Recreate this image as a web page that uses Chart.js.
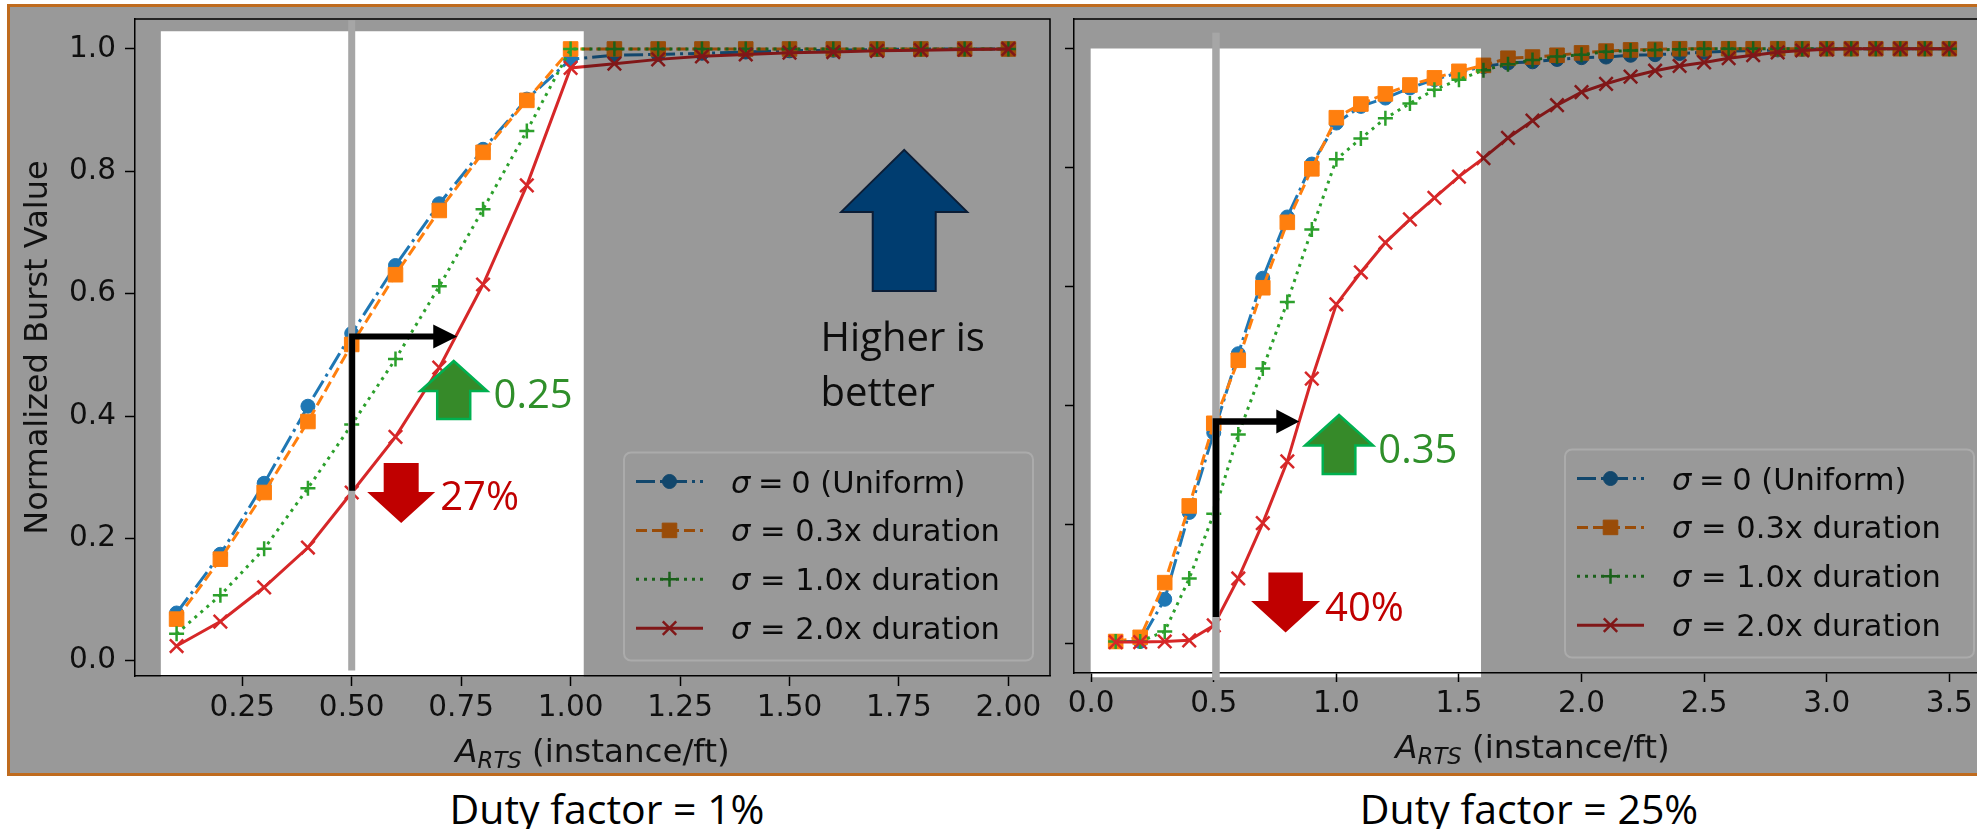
<!DOCTYPE html>
<html lang="en">
<head>
<meta charset="utf-8">
<title>Normalized Burst Value vs A_RTS</title>
<script src="https://cdn.jsdelivr.net/npm/chart.js@4.4.1/dist/chart.umd.min.js"></script>
<style>
  html, body { margin: 0; padding: 0; background: #fff; }
  body { position: relative; width: 1977px; height: 829px; overflow: hidden; }
  #frame { position: absolute; left: 7px; top: 4px; width: 2100px; height: 766px;
           border: 3px solid #bf6b1e; border-right: none; }
  canvas { position: absolute; top: 7px; }
  #leftChart { left: 10px; }
  #rightChart { left: 1062px; }
  .caption { position: absolute; top: 788px; font-family: "Open Sans"; font-size: 41px;
             line-height: 41px; color: #000; white-space: nowrap; transform: translateX(-50%); }
</style>
</head>
<body>
<canvas id="leftChart" width="1052" height="766"></canvas>
<canvas id="rightChart" width="1000" height="766"></canvas>
<div id="frame"></div>
<div class="caption" style="left:607px">Duty factor = 1%</div>
<div class="caption" style="left:1529px">Duty factor = 25%</div>

<script>
// =========================
// DATA
// =========================

const seriesNames = ["σ = 0 (Uniform)", "σ = 0.3x duration", "σ = 1.0x duration", "σ = 2.0x duration"];

// duty factor = 1%
const xLeft = [0.1, 0.2, 0.3, 0.4, 0.5, 0.6, 0.7, 0.8, 0.9, 1.0,
               1.1, 1.2, 1.3, 1.4, 1.5, 1.6, 1.7, 1.8, 1.9, 2.0];
const uniformLeft = [0.078, 0.174, 0.290, 0.416, 0.535, 0.646, 0.747, 0.836, 0.918, 0.983,
                     0.990, 0.991, 0.993, 0.995, 0.997, 0.998, 0.999, 1.0, 1.0, 1.0];
const sigma03Left = [0.068, 0.166, 0.275, 0.391, 0.517, 0.631, 0.736, 0.831, 0.916, 1.0,
                     1.0, 1.0, 1.0, 1.0, 1.0, 1.0, 1.0, 1.0, 1.0, 1.0];
const sigma10Left = [0.044, 0.107, 0.183, 0.282, 0.386, 0.493, 0.612, 0.738, 0.866, 1.0,
                     1.0, 1.0, 1.0, 1.0, 1.0, 1.0, 1.0, 1.0, 1.0, 1.0];
const sigma20Left = [0.024, 0.064, 0.120, 0.185, 0.275, 0.366, 0.479, 0.615, 0.777, 0.969,
                     0.976, 0.983, 0.988, 0.991, 0.994, 0.995, 0.997, 0.998, 0.999, 1.0];

// duty factor = 25%
const xRight = [0.1, 0.2, 0.3, 0.4, 0.5, 0.6, 0.7, 0.8, 0.9, 1.0,
                1.1, 1.2, 1.3, 1.4, 1.5, 1.6, 1.7, 1.8, 1.9, 2.0,
                2.1, 2.2, 2.3, 2.4, 2.5, 2.6, 2.7, 2.8, 2.9, 3.0,
                3.1, 3.2, 3.3, 3.4, 3.5];
const uniformRight = [0.003, 0.003, 0.074, 0.220, 0.354, 0.487, 0.614, 0.717, 0.806, 0.875,
                      0.903, 0.917, 0.934, 0.948, 0.960, 0.970, 0.976, 0.978, 0.982, 0.985,
                      0.986, 0.989, 0.990, 0.992, 0.994, 0.996, 0.997, 0.998, 0.999, 1.0,
                      1.0, 1.0, 1.0, 1.0, 1.0];
const sigma03Right = [0.003, 0.010, 0.102, 0.231, 0.370, 0.476, 0.598, 0.708, 0.798, 0.884,
                      0.907, 0.924, 0.939, 0.951, 0.962, 0.972, 0.984, 0.986, 0.989, 0.993,
                      0.996, 0.998, 0.999, 1.0, 1.0, 1.0, 1.0, 1.0, 1.0, 1.0,
                      1.0, 1.0, 1.0, 1.0, 1.0];
const sigma10Right = [0.003, 0.003, 0.020, 0.109, 0.218, 0.351, 0.462, 0.574, 0.696, 0.814,
                      0.849, 0.883, 0.908, 0.931, 0.948, 0.964, 0.974, 0.981, 0.987, 0.990,
                      0.995, 0.997, 0.998, 0.999, 1.0, 1.0, 1.0, 1.0, 1.0, 1.0,
                      1.0, 1.0, 1.0, 1.0, 1.0];
const sigma20Right = [0.002, 0.002, 0.003, 0.005, 0.030, 0.109, 0.202, 0.306, 0.445, 0.570,
                      0.624, 0.674, 0.713, 0.749, 0.785, 0.816, 0.850, 0.879, 0.905, 0.927,
                      0.941, 0.953, 0.963, 0.971, 0.977, 0.984, 0.989, 0.994, 0.997, 0.999,
                      1.0, 1.0, 1.0, 1.0, 1.0];

const yTicks = [0, 0.2, 0.4, 0.6, 0.8, 1.0];
const xTicksLeft = [0.25, 0.5, 0.75, 1.0, 1.25, 1.5, 1.75, 2.0];
const xTicksRight = [0, 0.5, 1.0, 1.5, 2.0, 2.5, 3.0, 3.5];


// =========================
// STYLES
// =========================

const seriesStyle = [
    { color: "#1f77b4", dash: [19, 5, 3, 5], point: "circle", radius: 7, pw: 1 },
    { color: "#ff7f0e", dash: [11, 5], point: "rect", radius: 10.3, pw: 1 },
    { color: "#2ca02c", dash: [3, 5], point: "cross", radius: 7.5, pw: 2.5 },
    { color: "#d62728", dash: [], point: "crossRot", radius: 9.5, pw: 2.5 }
];

const tickFont = { family: "DejaVu Sans", size: 29.5 };
const noteFont = '40px "Open Sans"';
const GREEN_FILL = "#368a29", GREEN_EDGE = "#00b050", GREEN_TEXT = "#2f8f2a";
const RED = "#c00000";

const panels = {
    left: {
        name: "left", xs: xLeft, series: [uniformLeft, sigma03Left, sigma10Left, sigma20Left],
        xMin: 0.005, xMax: 2.095, yMin: -0.025, yMax: 1.049,
        xTicks: xTicksLeft, xDigits: 2, yLabels: true, tickLen: 10,
        padding: { left: 0, top: 9, right: 10, bottom: 0 }, yAxisWidth: 125, xAxisHeight: 97,
        yTitle: true, xTitleBase: 754.7,
        highlight: { x0: 0.064, x1: 1.030, y0: -0.026, y1: 1.029 },
        vline: { x: 0.5, y0: -0.016, y1: 1.047, w: 7 },
        bracket: { x: 0.501, yTop: 0.530, yBottom: 0.278, xTip: 0.741, w: 6, headLen: 24, headHalf: 12 },
        arrows: [
            { x: 1.762, y: 0.835, up: true, hh: 63, hl: 62, sh: 31.5, len: 141, fill: "#003d70", edge: "#0b1d36", ew: 2 },
            { x: 0.733, y: 0.490, up: true, hh: 33.5, hl: 30, sh: 16.5, len: 58, fill: GREEN_FILL, edge: GREEN_EDGE, ew: 2.5 },
            { x: 0.613, y: 0.225, up: false, hh: 34, hl: 31, sh: 17.5, len: 60, fill: RED, edge: null, ew: 0 }
        ],
        notes: [
            { text: "0.25", x: 0.824, y: 0.413, color: GREEN_TEXT },
            { text: "27%", x: 0.702, y: 0.246, color: RED },
            { text: "Higher is", x: 1.571, y: 0.506, color: "#0d0d0d" },
            { text: "better", x: 1.571, y: 0.417, color: "#0d0d0d" }
        ]
    },
    right: {
        name: "right", xs: xRight, series: [uniformRight, sigma03Right, sigma10Right, sigma20Right],
        xMin: -0.07, xMax: 3.67, yMin: -0.05, yMax: 1.05,
        xTicks: xTicksRight, xDigits: 1, yLabels: false, tickLen: 9,
        padding: { left: 0, top: 6, right: 71, bottom: 0 }, yAxisWidth: 12, xAxisHeight: 100,
        yTitle: false, xTitleBase: 751,
        highlight: { x0: -0.002, x1: 1.590, y0: -0.057, y1: 1.0005 },
        vline: { x: 0.509, y0: -0.062, y1: 1.027, w: 7.5 },
        bracket: { x: 0.509, yTop: 0.373, yBottom: 0.044, xTip: 0.849, w: 6.5, headLen: 23, headHalf: 12 },
        arrows: [
            { x: 1.011, y: 0.384, up: true, hh: 34, hl: 30.5, sh: 16.3, len: 59, fill: GREEN_FILL, edge: GREEN_EDGE, ew: 2.5 },
            { x: 0.793, y: 0.018, up: false, hh: 34.5, hl: 31.5, sh: 17.2, len: 60, fill: RED, edge: null, ew: 0 }
        ],
        notes: [
            { text: "0.35", x: 1.171, y: 0.303, color: GREEN_TEXT },
            { text: "40%", x: 0.954, y: 0.037, color: RED }
        ]
    }
};


// =========================
// DRAW HELPERS
// =========================

function drawMarker(ctx, st, x, y) {
    const r = st.radius;
    ctx.fillStyle = st.color;
    ctx.strokeStyle = st.color;
    ctx.lineWidth = st.pw;
    ctx.beginPath();
    if (st.point === "circle") {
        ctx.arc(x, y, r, 0, Math.PI * 2);
        ctx.fill();
    } else if (st.point === "rect") {
        const s = Math.SQRT1_2 * r;
        ctx.rect(x - s, y - s, 2 * s, 2 * s);
        ctx.fill();
    } else if (st.point === "cross") {
        ctx.moveTo(x - r, y); ctx.lineTo(x + r, y);
        ctx.moveTo(x, y - r); ctx.lineTo(x, y + r);
    } else {
        const o = Math.SQRT1_2 * r;
        ctx.moveTo(x - o, y - o); ctx.lineTo(x + o, y + o);
        ctx.moveTo(x - o, y + o); ctx.lineTo(x + o, y - o);
    }
    ctx.stroke();
}

function legendBox(area) {
    const w = 409, h = 208;
    return { left: area.right - 17 - w, top: area.bottom - 15.5 - h, w: w, h: h };
}

function drawLegendBody(ctx, area) {
    const box = legendBox(area);
    seriesNames.forEach((name, i) => {
        const st = seriesStyle[i];
        const yy = box.top + 29 + i * 48.9;
        ctx.save();
        ctx.strokeStyle = st.color;
        ctx.lineWidth = 3;
        ctx.setLineDash(st.dash);
        ctx.beginPath();
        ctx.moveTo(box.left + 12, yy);
        ctx.lineTo(box.left + 79, yy);
        ctx.stroke();
        ctx.setLineDash([]);
        drawMarker(ctx, st, box.left + 45.5, yy);

        // sigma in italic, rest upright
        ctx.fillStyle = "#111";
        ctx.textBaseline = "alphabetic";
        let tx = box.left + 107;
        ctx.font = 'italic 30.5px "DejaVu Sans"';
        ctx.fillText("σ", tx, yy + 11);
        tx += ctx.measureText("σ").width;
        ctx.font = '30.5px "DejaVu Sans"';
        const rest = i === 0 ? "\u2005=\u20050 (Uniform)" : name.slice(1);
        ctx.fillText(rest, tx, yy + 11);
        ctx.restore();
    });
}

function drawBlockArrow(ctx, cx, tip, a) {
    const s = a.up ? 1 : -1;
    ctx.save();
    ctx.beginPath();
    ctx.moveTo(cx, tip);
    ctx.lineTo(cx + a.hh, tip + s * a.hl);
    ctx.lineTo(cx + a.sh, tip + s * a.hl);
    ctx.lineTo(cx + a.sh, tip + s * a.len);
    ctx.lineTo(cx - a.sh, tip + s * a.len);
    ctx.lineTo(cx - a.sh, tip + s * a.hl);
    ctx.lineTo(cx - a.hh, tip + s * a.hl);
    ctx.closePath();
    ctx.fillStyle = a.fill;
    ctx.fill();
    if (a.edge) {
        ctx.strokeStyle = a.edge;
        ctx.lineWidth = a.ew;
        ctx.lineJoin = "miter";
        ctx.stroke();
    }
    ctx.restore();
}

function drawXTitle(ctx, cx, base) {
    const size = 32.5;
    const big = 'italic ' + size + 'px "DejaVu Sans"';
    const small = 'italic ' + (size * 0.7).toFixed(2) + 'px "DejaVu Sans"';
    const reg = size + 'px "DejaVu Sans"';
    ctx.save();
    ctx.fillStyle = "#111";
    ctx.textBaseline = "alphabetic";
    ctx.font = big; const wA = ctx.measureText("A").width;
    ctx.font = small; const wS = ctx.measureText("RTS").width;
    ctx.font = reg; const wR = ctx.measureText(" (instance/ft)").width;
    let x = cx - (wA + wS + wR) / 2;
    ctx.font = big; ctx.fillText("A", x, base); x += wA;
    ctx.font = small; ctx.fillText("RTS", x, base + 6); x += wS;
    ctx.font = reg; ctx.fillText(" (instance/ft)", x, base);
    ctx.restore();
}


// =========================
// PLUGIN (overlay + notes)
// =========================

function panelPlugin(panel) {
    return {
        id: "panel_" + panel.name,

        beforeDraw(chart) {
            const ctx = chart.ctx;
            ctx.save();
            ctx.fillStyle = "#fff";
            ctx.fillRect(0, 0, chart.width, chart.height);
            ctx.restore();
        },

        afterDatasetsDraw(chart) {
            const { ctx, chartArea: a, scales } = chart;
            const px = v => scales.x.getPixelForValue(v);
            const py = v => scales.y.getPixelForValue(v);

            // top and right spines
            ctx.save();
            ctx.strokeStyle = "#000";
            ctx.lineWidth = 1.5;
            ctx.beginPath();
            ctx.moveTo(a.left, a.top);
            ctx.lineTo(a.right, a.top);
            ctx.lineTo(a.right, a.bottom);
            ctx.stroke();
            ctx.restore();

            drawLegendBody(ctx, a);

            // grey veil everywhere except the highlighted window
            const h = panel.highlight;
            ctx.save();
            ctx.beginPath();
            ctx.rect(0, 0, chart.width, chart.height);
            ctx.rect(px(h.x0), py(h.y1), px(h.x1) - px(h.x0), py(h.y0) - py(h.y1));
            ctx.fillStyle = "rgba(0,0,0,0.4)";
            ctx.fill("evenodd");
            ctx.restore();
        },

        afterDraw(chart) {
            const { ctx, chartArea: a, scales } = chart;
            const px = v => scales.x.getPixelForValue(v);
            const py = v => scales.y.getPixelForValue(v);

            // legend frame
            const box = legendBox(a);
            ctx.save();
            ctx.strokeStyle = "#ababab";
            ctx.lineWidth = 2;
            ctx.beginPath();
            ctx.roundRect(box.left, box.top, box.w, box.h, 7);
            ctx.stroke();
            ctx.restore();

            // grey marker line at A_RTS = 0.5
            const v = panel.vline;
            ctx.fillStyle = "#a6a6a6";
            ctx.fillRect(px(v.x) - v.w / 2, py(v.y1), v.w, py(v.y0) - py(v.y1));

            // black bracket + arrow
            const b = panel.bracket;
            const bx = px(b.x), yT = py(b.yTop), yB = py(b.yBottom), xT = px(b.xTip);
            ctx.save();
            ctx.strokeStyle = "#000";
            ctx.fillStyle = "#000";
            ctx.lineWidth = b.w;
            ctx.beginPath();
            ctx.moveTo(bx, yB);
            ctx.lineTo(bx, yT - b.w / 2);
            ctx.moveTo(bx - b.w / 2, yT);
            ctx.lineTo(xT - b.headLen + 1, yT);
            ctx.stroke();
            ctx.beginPath();
            ctx.moveTo(xT, yT);
            ctx.lineTo(xT - b.headLen, yT - b.headHalf);
            ctx.lineTo(xT - b.headLen, yT + b.headHalf);
            ctx.closePath();
            ctx.fill();
            ctx.restore();

            panel.arrows.forEach(ar => drawBlockArrow(ctx, px(ar.x), py(ar.y), ar));

            ctx.save();
            ctx.font = noteFont;
            ctx.textBaseline = "alphabetic";
            panel.notes.forEach(n => {
                ctx.fillStyle = n.color;
                ctx.fillText(n.text, px(n.x), py(n.y));
            });
            ctx.restore();

            // axis titles
            drawXTitle(ctx, (a.left + a.right) / 2, panel.xTitleBase);
            if (panel.yTitle) {
                ctx.save();
                ctx.translate(37, (a.top + a.bottom) / 2);
                ctx.rotate(-Math.PI / 2);
                ctx.font = '32px "DejaVu Sans"';
                ctx.fillStyle = "#111";
                ctx.textAlign = "center";
                ctx.textBaseline = "alphabetic";
                ctx.fillText("Normalized Burst Value", 0, 0);
                ctx.restore();
            }
        }
    };
}


// =========================
// CHARTS
// =========================

function buildDatasets(xs, lists) {
    return lists.map((ys, i) => {
        const st = seriesStyle[i];
        return {
            label: seriesNames[i],
            data: xs.map((x, k) => ({ x: x, y: ys[k] })),
            borderColor: st.color,
            backgroundColor: st.color,
            borderWidth: 3,
            borderDash: st.dash,
            pointStyle: st.point,
            pointRadius: st.radius,
            pointBorderWidth: st.pw,
            pointBackgroundColor: st.color,
            pointBorderColor: st.color,
            tension: 0,
            order: 3 - i
        };
    });
}

function makeChart(canvasId, panel) {
    return new Chart(document.getElementById(canvasId), {
        type: "line",
        data: { datasets: buildDatasets(panel.xs, panel.series) },
        options: {
            responsive: false,
            animation: false,
            events: [],
            layout: { padding: panel.padding },
            plugins: { legend: { display: false }, tooltip: { enabled: false } },
            scales: {
                x: {
                    type: "linear",
                    min: panel.xMin,
                    max: panel.xMax,
                    afterBuildTicks: s => { s.ticks = panel.xTicks.map(v => ({ value: v })); },
                    afterFit: s => {
                        s.height = panel.xAxisHeight;
                        s.paddingLeft = 0;
                        s.paddingRight = 0;
                    },
                    ticks: {
                        callback: v => Number(v).toFixed(panel.xDigits),
                        font: tickFont, color: "#1a1a1a", padding: 5,
                        maxRotation: 0, autoSkip: false
                    },
                    grid: { drawOnChartArea: false, tickLength: panel.tickLen, tickWidth: 1.5, tickColor: "#000" },
                    border: { display: true, color: "#000", width: 1.5 }
                },
                y: {
                    type: "linear",
                    min: panel.yMin,
                    max: panel.yMax,
                    afterBuildTicks: s => { s.ticks = yTicks.map(v => ({ value: v })); },
                    afterFit: s => {
                        s.width = panel.yAxisWidth;
                        s.paddingTop = 0;
                        s.paddingBottom = 0;
                    },
                    ticks: {
                        callback: v => panel.yLabels ? Number(v).toFixed(1) : "",
                        font: tickFont, color: "#1a1a1a", padding: 9, autoSkip: false
                    },
                    grid: { drawOnChartArea: false, tickLength: panel.tickLen, tickWidth: 1.5, tickColor: "#000" },
                    border: { display: true, color: "#000", width: 1.5 }
                }
            }
        },
        plugins: [panelPlugin(panel)]
    });
}

makeChart("leftChart", panels.left);
makeChart("rightChart", panels.right);
</script>
</body>
</html>
